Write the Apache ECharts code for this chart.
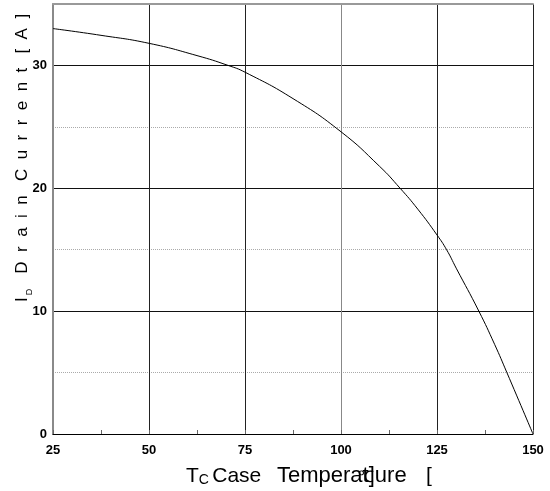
<!DOCTYPE html>
<html>
<head>
<meta charset="utf-8">
<script src="https://cdn.jsdelivr.net/npm/echarts@6/dist/echarts.min.js"></script>
<style>
  html, body { margin: 0; padding: 0; background: #fff; }
  #chart { width: 550px; height: 491px; }
</style>
</head>
<body>
<div id="chart"></div>
<script>
// values
var tempC = [25, 37.5, 50, 62.5, 70.6, 75, 87.5, 100, 110, 115.4, 120, 125, 127.5, 130, 135.9, 140, 143.2, 150];
var drainA = [33.0, 32.45, 31.8, 30.8, 30.0, 29.45, 27.3, 24.6, 21.8, 20.0, 18.3, 16.2, 15.0, 13.5, 10.0, 7.3, 5.0, 0];
var xTicks = [25, 50, 75, 100, 125, 150];
var yTicks = [0, 10, 20, 30];

var pts = tempC.map(function (t, i) { return [t, drainA[i]]; });
var font = 'Liberation Sans, Arial, sans-serif';

var myChart = echarts.init(document.getElementById('chart'));
myChart.setOption({
  animation: false,
  backgroundColor: '#fff',
  grid: { left: 53, right: 17, top: 4, bottom: 57 },
  xAxis: [{
    type: 'value', min: xTicks[0], max: xTicks[xTicks.length - 1], interval: 25,
    axisLine: { lineStyle: { color: '#000', width: 1 } },
    axisTick: { show: true, inside: true, length: 4, lineStyle: { color: '#666' } },
    minorTick: { show: true, splitNumber: 2, length: 4, lineStyle: { color: '#666' } },
    splitLine: { show: true, lineStyle: { color: ['#222', '#222', '#222', '#888', '#222', '#222'], width: 1 } },
    axisLabel: { margin: 10, color: '#000', fontFamily: font, fontWeight: 'bold', fontSize: 13 }
  }, {
    type: 'value', position: 'top', min: 25, max: 150, interval: 25,
    axisLine: { show: true, onZero: false, lineStyle: { color: '#999', width: 2 } },
    axisTick: { show: false }, axisLabel: { show: false }, splitLine: { show: false }
  }],
  yAxis: [{
    type: 'value', min: 0, max: 35, interval: 10,
    axisLine: { show: true, lineStyle: { color: '#8a8a8a', width: 2 } },
    axisTick: { show: false },
    splitLine: { show: true, lineStyle: { color: ['#111', '#111', '#111', '#111', '#999'], width: 1 } },
    axisLabel: {
      margin: 6, color: '#000', fontFamily: font, fontWeight: 'bold', fontSize: 13,
      formatter: function (v) { return yTicks.indexOf(v) >= 0 ? String(v) : ''; }
    }
  }, {
    type: 'value', min: 0, max: 35, interval: 5, position: 'left',
    axisLine: { show: false }, axisTick: { show: false }, axisLabel: { show: false },
    splitLine: { show: true, lineStyle: { type: 'dotted', color: ['rgba(0,0,0,0)', '#aaa'], width: 1 } }
  }],
  series: [{
    type: 'line', data: pts, smooth: true, showSymbol: false,
    lineStyle: { color: '#000', width: 1 }, z: 5
  }],
  graphic: [
    {
      type: 'text', x: 186, y: 487,
      style: {
        text: '{a|T}{b|C} {a|Case}',
        verticalAlign: 'bottom', align: 'left',
        rich: {
          a: { fontFamily: font, fontSize: 21, fill: '#000' },
          b: { fontFamily: font, fontSize: 14, fill: '#000', verticalAlign: 'bottom' }
        }
      }
    },
    {
      type: 'text', x: 277, y: 487,
      style: { text: 'Temperat]ure', fontFamily: font, fontSize: 22, fill: '#000', verticalAlign: 'bottom' }
    },
    {
      type: 'text', x: 426, y: 487,
      style: { text: '[', fontFamily: font, fontSize: 21, fill: '#000', verticalAlign: 'bottom' }
    },
    {
      type: 'text', x: 358, y: 486,
      style: { text: '℃', fontFamily: font, fontSize: 16, fill: '#000', verticalAlign: 'bottom' }
    },
    {
      type: 'text', x: 22, y: 302, rotation: Math.PI / 2,
      style: {
        text: 'I     D  r  a  i  n   C  u  r  r  e  n  t   [  A  ]',
        fontFamily: font, fontSize: 17, fill: '#000', align: 'left', verticalAlign: 'middle'
      }
    },
    {
      type: 'text', x: 30, y: 292, rotation: Math.PI / 2,
      style: { text: 'D', fontFamily: font, fontSize: 9, fill: '#000', align: 'center', verticalAlign: 'middle' }
    }
  ]
});
</script>
</body>
</html>
